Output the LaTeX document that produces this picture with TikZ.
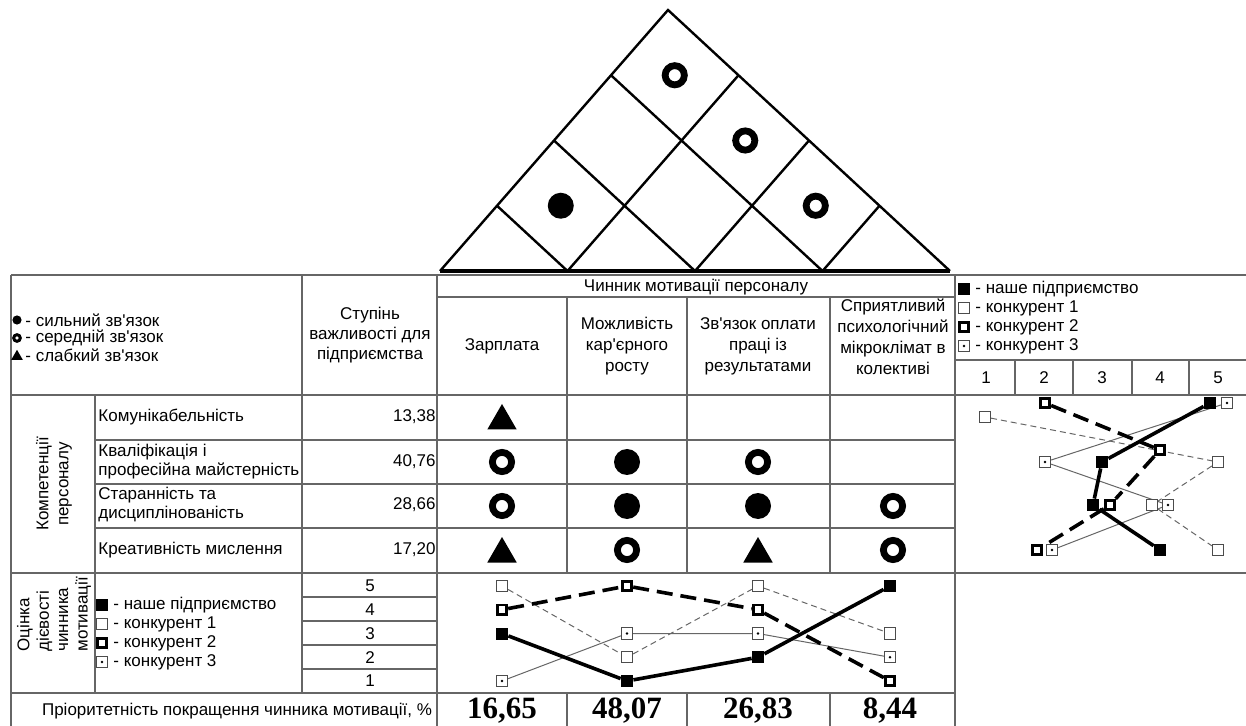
\documentclass[tikz,border=0pt]{standalone}
\usepackage{fontspec}
\setmainfont{Liberation Sans}[Ligatures=TeXOff]
\newfontfamily\numfont{Liberation Serif}
\usetikzlibrary{calc, math, backgrounds, shapes.geometric}

\begin{document}
\begin{tikzpicture}[x=0.5pt, y=-0.5pt,
 every node/.style={font=\fontsize{8.5}{10.5}\selectfont, inner sep=0pt},
 grid/.style={line width=0.6pt, color=black!60},
 roof/.style={line width=1.2pt, line join=miter},
 strong/.style={circle, fill=black, minimum size=13pt},
 medium/.style={circle, draw=black, line width=3.4pt, minimum size=9.6pt},
 weak/.style={regular polygon, regular polygon sides=3, fill=black, minimum size=17pt, yshift=-2pt},
 mours/.style={rectangle, fill=black, minimum size=6pt},
 mkonk/.style={rectangle, draw=black!70, fill=white, line width=0.5pt, minimum size=5.6pt},
 mkonkb/.style={rectangle, draw=black, fill=white, line width=1.4pt, minimum size=4.8pt},
 mkonkc/.style={mkonk, path picture={\fill[black] (path picture bounding box.center) circle (0.7pt);}},
 lours/.style={line width=1.8pt},
 lkonk/.style={line width=0.5pt, color=black!60, dash pattern=on 3pt off 2pt},
 lkonkb/.style={line width=1.8pt, dash pattern=on 8pt off 4pt},
 lkonkc/.style={line width=0.5pt, color=black!60},
 numbers/.style={font=\numfont\bfseries\fontsize{15.5}{18}\selectfont}
]
\useasboundingbox (0,0) rectangle (1246,726);

%roof:
\coordinate (A) at (668,10);
\coordinate (B0) at (440,271);
\coordinate (B4) at (950,271);
\draw[roof] (B0) -- (A) -- (B4);
\draw[line width=2pt] (B0) -- (B4);
\foreach \k in {1,2,3}{
 \draw[roof] ($(B0)!\k/4!(B4)$) -- ($(A)!\k/4!(B4)$);
 \draw[roof] ($(B0)!\k/4!(B4)$) -- ($(B0)!\k/4!(A)$);
}
\node[strong] (r12) at (560.75,205.75) {};
\node[medium] (r14) at (674.75,75.25) {};
\node[medium] (r24) at (745.25,140.5) {};
\node[medium] (r34) at (815.75,205.75) {};

%table:
\draw[grid] (11,275) -- (1246,275);
\draw[grid] (11,275) -- (11,726);
\draw[grid] (302,275) -- (302,693);
\draw[grid] (437,275) -- (437,726);
\draw[grid] (955,275) -- (955,726);
\draw[grid] (437,297) -- (955,297);
\draw[grid] (11,395) -- (1246,395);
\draw[grid] (955,360) -- (1246,360);
\draw[grid] (11,573) -- (1246,573);
\draw[grid] (11,693) -- (955,693);
\draw[grid] (95,395) -- (95,693);
\foreach \y in {440,484,528} \draw[grid] (95,\y) -- (955,\y);
\foreach \y in {597,621,645,669} \draw[grid] (302,\y) -- (437,\y);
\foreach \x in {567,687,830}{
 \draw[grid] (\x,297) -- (\x,573);
 \draw[grid] (\x,693) -- (\x,726);
}
\foreach \x in {1015,1073,1132,1189} \draw[grid] (\x,360) -- (\x,395);

%legend of links:
\node[strong, minimum size=4.6pt] (ls) at (17,320) {};
\node[medium, line width=1.5pt, minimum size=3.3pt] (lm) at (17,338) {};
\node[weak, minimum size=6.8pt, yshift=1.2pt] (lw) at (17,355) {};
\node[anchor=west] at (25,320) {- сильний зв'язок};
\node[anchor=west] at (25,338) {- середній зв'язок};
\node[anchor=west] at (25,355) {- слабкий зв'язок};
\node[align=center, font=\fontsize{8.5}{10}\selectfont] (imp) at (370,335) {Ступінь\\важливості для\\підприємства};

%head:
\node (factor) at (696,287) {Чинник мотивації персоналу};
\node[align=center] (c1) at (502,346) {Зарплата};
\node[align=center] (c2) at (627,346) {Можливість\\кар'єрного\\росту};
\node[align=center] (c3) at (758,346) {Зв'язок оплати\\праці із\\результатами};
\node[align=center] (c4) at (893,337) {Сприятливий\\психологічний\\мікроклімат в\\колективі};

%competences:
\node[rotate=90, align=center, font=\fontsize{8.5}{10}\selectfont] (comp) at (54,484) {Компетенції\\персоналу};
\node[anchor=west] (n1) at (98,417) {Комунікабельність};
\node[anchor=west, align=left, font=\fontsize{8.5}{9.5}\selectfont] (n2) at (98,462) {Кваліфікація і\\професійна майстерність};
\node[anchor=west, align=left, font=\fontsize{8.5}{9.5}\selectfont] (n3) at (98,505) {Старанність та\\дисциплінованість};
\node[anchor=west] (n4) at (98,550) {Креативність мислення};
\node[anchor=east] (v1) at (436,417) {13,38};
\node[anchor=east] (v2) at (436,462) {40,76};
\node[anchor=east] (v3) at (436,505) {28,66};
\node[anchor=east] (v4) at (436,550) {17,20};

%matrix:
\node[weak] (m11) at (502,417) {};
\node[medium] (m21) at (502,462) {};
\node[strong] (m22) at (627,462) {};
\node[medium] (m23) at (758,462) {};
\node[medium] (m31) at (502,506) {};
\node[strong] (m32) at (627,506) {};
\node[strong] (m33) at (758,506) {};
\node[medium] (m34) at (893,506) {};
\node[weak] (m41) at (502,550) {};
\node[medium] (m42) at (627,550) {};
\node[weak] (m43) at (758,550) {};
\node[medium] (m44) at (893,550) {};

%rating:
\node[rotate=90, align=left, anchor=west, font=\fontsize{8.5}{9.7}\selectfont] (eff) at (54,652) {Оцінка\\дієвості\\чинника\\мотивації};
\foreach \v in {1,...,5} \node (rate\v) at (370,{586+(5-\v)*23.75}) {\v};
\node (prio) at (237,711) {Пріоритетність покращення чинника мотивації, \%};
\node[numbers] (p1) at (502,711) {16,65};
\node[numbers] (p2) at (627,711) {48,07};
\node[numbers] (p3) at (758,711) {26,83};
\node[numbers] (p4) at (890,711) {8,44};

%legends of enterprises:
\foreach \s/\t [count=\i] in {mours/наше підприємство, mkonk/конкурент 1, mkonkb/конкурент 2, mkonkc/конкурент 3}{
 \node[\s] (ra\i) at (964,{270+\i*19}) {};
 \node[anchor=west] at (975,{270+\i*19}) {- \t};
 \node[\s] (ba\i) at (102,{586+\i*19}) {};
 \node[anchor=west] at (113,{586+\i*19}) {- \t};
}
\foreach \v in {1,...,5} \node (sc\v) at ({928+\v*58},378) {\v};

%right plot:
\foreach \x/\y [count=\i] in {1210/403, 1102/462, 1093/505, 1160/550} \node[mours] (ro\i) at (\x,\y) {};
\foreach \x/\y [count=\i] in {985/417, 1218/462, 1152/505, 1218/550} \node[mkonk] (rk\i) at (\x,\y) {};
\foreach \x/\y [count=\i] in {1045/403, 1160/450, 1110/505, 1037/550} \node[mkonkb] (rb\i) at (\x,\y) {};
\foreach \x/\y [count=\i] in {1227/403, 1045/462, 1168/505, 1052/550} \node[mkonkc] (rc\i) at (\x,\y) {};

%bottom plot:
\foreach \x/\v [count=\i] in {502/3, 627/1, 758/2, 890/5} \node[mours] (bo\i) at (\x,{586+(5-\v)*23.75}) {};
\foreach \x/\v [count=\i] in {502/5, 627/2, 758/5, 890/3} \node[mkonk] (bk\i) at (\x,{586+(5-\v)*23.75}) {};
\foreach \x/\v [count=\i] in {502/4, 627/5, 758/4, 890/1} \node[mkonkb] (bb\i) at (\x,{586+(5-\v)*23.75}) {};
\foreach \x/\v [count=\i] in {502/1, 627/3, 758/3, 890/2} \node[mkonkc] (bc\i) at (\x,{586+(5-\v)*23.75}) {};

\begin{scope}[on background layer]
 \draw[lkonkc] (rc1) -- (rc2) -- (rc3) -- (rc4);
 \draw[lkonk] (rk1) -- (rk2) -- (rk3) -- (rk4);
 \draw[lkonkb] (rb1) -- (rb2) -- (rb3) -- (rb4);
 \draw[lours] (ro1) -- (ro2) -- (ro3) -- (ro4);
 \draw[lkonkc] (bc1) -- (bc2) -- (bc3) -- (bc4);
 \draw[lkonk] (bk1) -- (bk2) -- (bk3) -- (bk4);
 \draw[lkonkb] (bb1) -- (bb2) -- (bb3) -- (bb4);
 \draw[lours] (bo1) -- (bo2) -- (bo3) -- (bo4);
\end{scope}
\end{tikzpicture}
\end{document}
